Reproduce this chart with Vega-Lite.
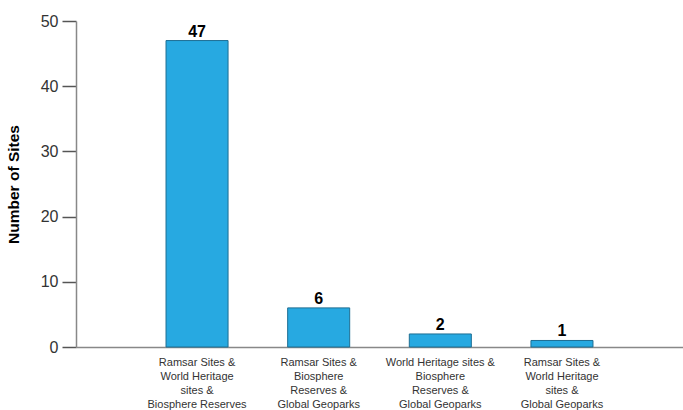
{
  "$schema": "https://vega.github.io/schema/vega-lite/v6.json",
  "width": 607,
  "height": 326,
  "autosize": {"type": "none"},
  "padding": {"left": 76, "top": 21, "right": 0, "bottom": 63},
  "background": "white",
  "config": {"view": {"stroke": null}, "font": "Liberation Sans"},
  "data": {"values": [
    {"category": "Ramsar Sites &\nWorld Heritage\nsites &\nBiosphere Reserves", "sites": 47},
    {"category": "Ramsar Sites &\nBiosphere\nReserves &\nGlobal Geoparks", "sites": 6},
    {"category": "World Heritage sites &\nBiosphere\nReserves &\nGlobal Geoparks", "sites": 2},
    {"category": "Ramsar Sites &\nWorld Heritage\nsites &\nGlobal Geoparks", "sites": 1}
  ]},
  "encoding": {
    "x": {
      "field": "category", "type": "nominal", "sort": null,
      "scale": {"paddingInner": 0.49, "paddingOuter": 0.74},
      "axis": {
        "title": null, "labelAngle": 0, "ticks": false,
        "domainColor": "#888888", "domainWidth": 1.5,
        "labelExpr": "split(datum.value, '\\n')",
        "labelFont": "Liberation Sans",
        "labelFontSize": 11, "labelColor": "#333333",
        "labelLineHeight": 14, "labelPadding": 15, "labelBaseline": "middle"
      }
    },
    "y": {
      "field": "sites", "type": "quantitative",
      "scale": {"domain": [0, 50]},
      "axis": {
        "title": "Number of Sites", "titleFontSize": 15.5, "titleFontWeight": "bold",
        "titleColor": "#000000", "titlePadding": 19,
        "values": [0, 10, 20, 30, 40, 50], "grid": false,
        "tickSize": 14, "tickColor": "#555555", "tickWidth": 1.5,
        "domainColor": "#888888", "domainWidth": 1.5,
        "labelFontSize": 16, "labelColor": "#333333", "labelPadding": 4
      }
    }
  },
  "layer": [
    {"mark": {"type": "bar", "color": "#27a9e1", "stroke": "#1d6e93", "strokeWidth": 1}},
    {"mark": {"type": "text", "baseline": "bottom", "dy": -1, "fontSize": 16, "fontWeight": "bold", "color": "#000000"},
     "encoding": {"text": {"field": "sites", "type": "quantitative"}}}
  ]
}
